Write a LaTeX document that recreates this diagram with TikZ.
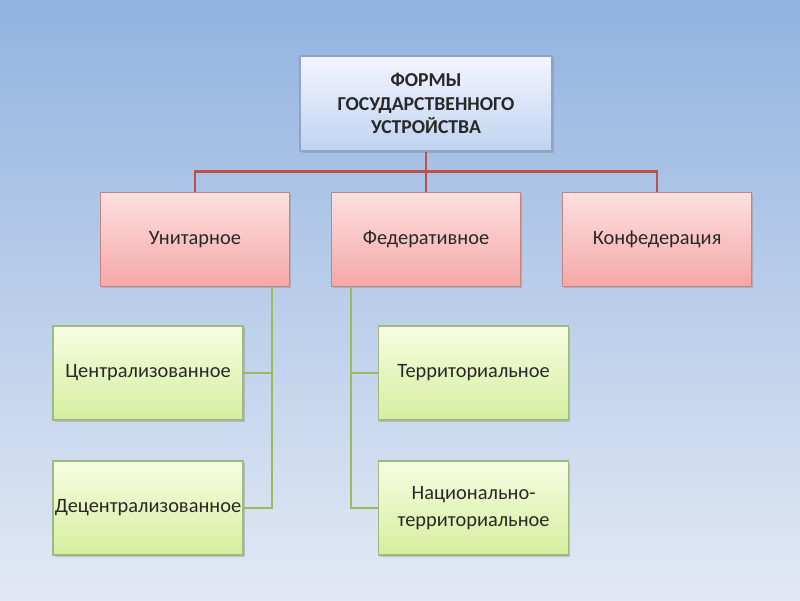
\documentclass[tikz,border=0pt]{standalone}
\usepackage{fontspec}
\setmainfont{Carlito}
\usepackage{xcolor}
\usepackage{tikz}
\usetikzlibrary{calc, positioning, shadows}
\definecolor{skyTop}{RGB}{146,179,224}
\definecolor{skyBottom}{RGB}{226,233,244}
\definecolor{redLine}{RGB}{192,80,77}
\definecolor{greenLine}{RGB}{155,187,89}
\definecolor{txtGray}{RGB}{40,40,40}
\definecolor{rootEdge}{RGB}{140,165,200}
\definecolor{kindEdge}{RGB}{200,130,128}
\definecolor{subEdge}{RGB}{160,185,130}
\tikzset{
    shade/.style={drop shadow={opacity=0.35, shadow xshift=0.04cm, shadow yshift=-0.05cm}},
    root/.style={rectangle, draw=rootEdge, thick, top color=blue!4, bottom color={rgb,255:red,190;green,211;blue,240}, shade, align=center, minimum width=6.3cm, minimum height=2.375cm, text=txtGray, font=\bfseries\fontsize{14}{16.7}\selectfont},
    kind/.style={rectangle, draw=kindEdge, thick, top color={rgb,255:red,253;green,224;blue,223}, bottom color={rgb,255:red,244;green,168;blue,166}, shade, align=center, minimum width=4.725cm, minimum height=2.35cm, text=txtGray, font=\fontsize{14.5}{19}\selectfont},
    sub/.style={rectangle, draw=subEdge, thick, top color={rgb,255:red,246;green,253;blue,226}, bottom color={rgb,255:red,214;green,238;blue,158}, shade, align=center, inner xsep=1pt, minimum width=4.75cm, minimum height=2.35cm, text=txtGray, font=\fontsize{14.5}{19}\selectfont},
    redlink/.style={redLine, line width=1.8pt},
    greenlink/.style={greenLine, line width=1.8pt}
}

\begin{document}
\begin{tikzpicture}
        % Background
        \fill[top color=skyTop, bottom color=skyBottom] (0,0) rectangle (20,-15);
        \useasboundingbox (0,0) rectangle (20,-15);

        % Central
        \node[root] (Forms) at (10.65,-2.5875) {ФОРМЫ\\ГОСУДАРСТВЕННОГО\\УСТРОЙСТВА};

        % Kinds
        \node[kind, below=1cm of Forms] (Fed) {Федеративное};
        \node[kind, left=1.025cm of Fed] (Unit) {Унитарное};
        \node[kind, right=1.025cm of Fed] (Konf) {Конфедерация};

        % Subtypes
        \node[sub] (Central) at (3.7,-9.325) {Централизованное};
        \node[sub] (Decentral) at (3.7,-12.7) {Децентрализованное};
        \node[sub] (Terr) at (11.84,-9.325) {Территориальное};
        \node[sub] (NatTerr) at (11.84,-12.7) {Национально-\\территориальное};

        % Links
        \coordinate (Bus) at ($(Forms.south)!0.5!(Fed.north)$);
        \draw[redlink] (Forms.south) -- (Fed.north);
        \draw[redlink] (Unit.north) |- (Bus) -| (Konf.north);

        \coordinate (uBus) at ([xshift=-0.45cm]Unit.south east);
        \coordinate (fBus) at ([xshift=0.5cm]Fed.south west);
        \draw[greenlink] (uBus) |- (Decentral.east);
        \draw[greenlink] (Central.east) -- (Central.east -| uBus);
        \draw[greenlink] (fBus) |- (NatTerr.west);
        \draw[greenlink] (Terr.west) -- (Terr.west -| fBus);
    \end{tikzpicture}
\end{document}
